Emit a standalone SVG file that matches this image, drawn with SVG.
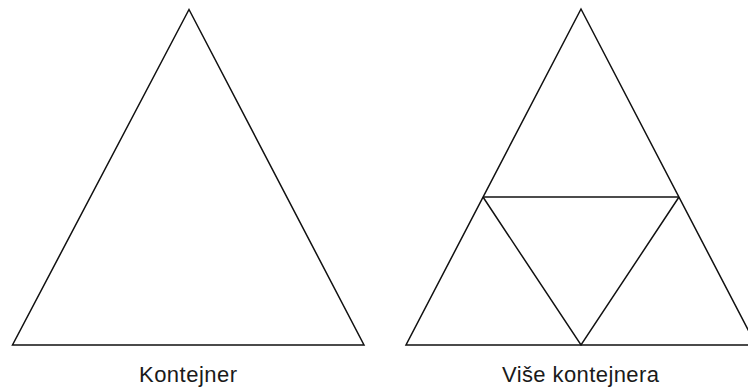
<svg xmlns="http://www.w3.org/2000/svg" width="748" height="389" viewBox="0 0 748 389">
<style>
.tri{fill:none;stroke:#111;stroke-width:1.5;stroke-linejoin:miter}
.lbl{font-family:"Liberation Sans",Arial,sans-serif;font-size:22px;fill:#1a1a1a;text-anchor:middle}
</style>
<rect width="748" height="389" fill="#fff"/>
<g id="kontejner">
<polygon class="tri" points="189,9.5 12.5,345 364,345"/>
<text class="lbl" x="188" y="382" textLength="98" lengthAdjust="spacing">Kontejner</text>
</g>
<g id="vise-kontejnera">
<polygon class="tri" points="581,9 406,345 756,345"/>
<text class="lbl" x="580.5" y="382" textLength="157" lengthAdjust="spacing">Više kontejnera</text>
</g>
<g id="connectors">
<polyline class="tri" points="483,197 679,197"/>
<polyline class="tri" points="483,197 581,345 679,197"/>
</g>
</svg>
